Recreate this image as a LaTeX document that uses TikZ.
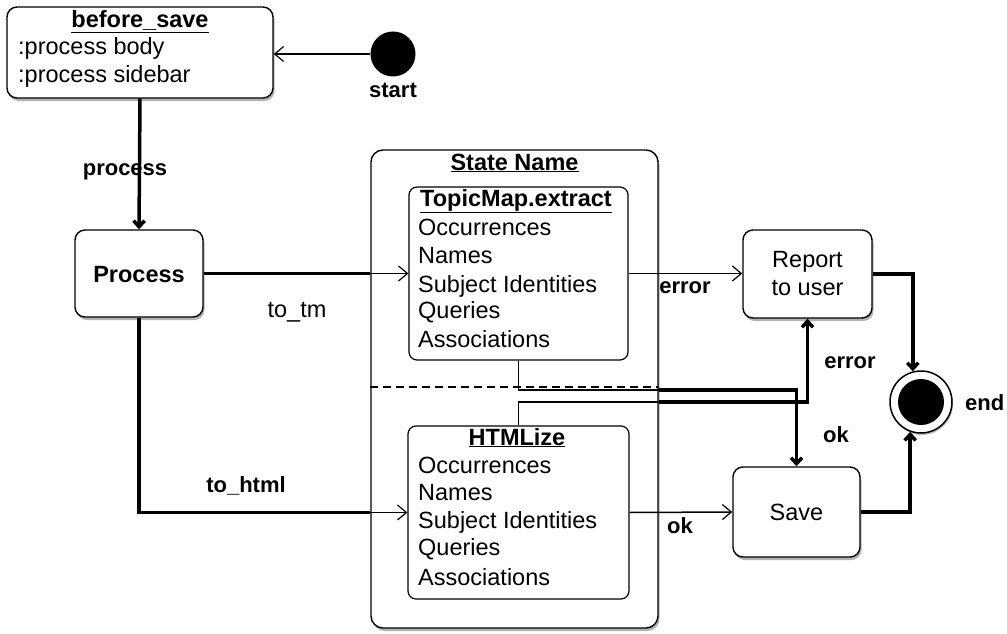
\documentclass[tikz,border=0pt]{standalone}
\usepackage{fontspec}
\setmainfont{Liberation Sans}
\usetikzlibrary{arrows.meta,shadows}

\begin{document}
\begin{tikzpicture}[x=1pt,y=-1pt,
  box/.style={draw, line width=1.4pt, rounded corners=10pt, fill=white, inner sep=0pt,
    drop shadow={shadow xshift=1.5pt, shadow yshift=-3pt, opacity=0.6}},
  inbox/.style={draw, line width=1.2pt, rounded corners=8pt, fill=white, inner sep=0pt},
  item/.style={anchor=base west, inner sep=0pt, font=\fontsize{23.5}{28}\selectfont},
  word/.style={anchor=base, inner sep=0pt, font=\fontsize{23.5}{28}\selectfont},
  title/.style={anchor=base, inner sep=0pt, font=\bfseries\fontsize{23.5}{28}\selectfont},
  lab/.style={anchor=base, inner sep=0pt, font=\bfseries\fontsize{22}{26}\selectfont},
  heavy/.style={line width=3.5pt},
  fine/.style={line width=1.5pt},
  opentip/.style={-{Straight Barb[length=9pt,width=15pt,line width=1.2pt]}},
  heavytip/.style={-{Straight Barb[length=6pt,width=11pt]}}
]
\useasboundingbox (0,0) rectangle (1007,634);

% composite state with its two regions
\node[box, rounded corners=12pt, minimum width=287pt, minimum height=478pt] (comp) at (514.5,389) {};
\node[title] (compname) at (514.5,170) {\underline{State Name}};
\coordinate (dashy) at (0,387);
\draw[line width=1.2pt, dash pattern=on 8pt off 5pt] (comp.west |- dashy) -- (comp.east |- dashy);

\node[inbox, minimum width=219pt, minimum height=173pt] (tm) at (518.5,273.5) {};
\node[title] (tmt) at (516,206) {\underline{TopicMap.extract}};
\node[item] (tm1) at (418,235) {Occurrences};
\node[item] (tm2) at (418,263) {Names};
\node[item] (tm3) at (418,292) {Subject Identities};
\node[item] (tm4) at (418,318) {Queries};
\node[item] (tm5) at (418,347) {Associations};

\node[inbox, minimum width=221pt, minimum height=173pt] (html) at (518.5,512.5) {};
\node[title] (htmlt) at (517,445) {\underline{HTMLize}};
\node[item] (h1) at (418,473) {Occurrences};
\node[item] (h2) at (418,500) {Names};
\node[item] (h3) at (418,528) {Subject Identities};
\node[item] (h4) at (418,555) {Queries};
\node[item] (h5) at (418,585) {Associations};

% simple states
\node[box, minimum width=266pt, minimum height=91pt] (bs) at (140,52.5) {};
\node[title] (bst) at (140,28) {\underline{before\_save}};
\node[item] (bs1) at (18,55) {:process body};
\node[item] (bs2) at (18,82) {:process sidebar};

\node[box, minimum width=128pt, minimum height=87pt] (proc) at (139,273.5) {};
\node[title] (proct) at (139,282) {Process};

\node[box, minimum width=129pt, minimum height=88pt] (report) at (807.5,274) {};
\node[word] (rep1) at (807.5,267) {Report};
\node[word] (rep2) at (807.5,295) {to user};

\node[box, minimum width=127pt, minimum height=90pt] (save) at (796.5,512) {};
\node[word] (savet) at (796.5,520) {Save};

% pseudo states
\node[circle, fill=black, minimum size=45pt, inner sep=0pt] (start) at (393,54) {};
\node[lab] (startl) at (393,97) {start};
\node[circle, draw, line width=1.5pt, fill=white, minimum size=62pt, inner sep=0pt,
  drop shadow={shadow xshift=1pt, shadow yshift=-2pt, opacity=0.5}] (endc) at (921,402) {};
\node[circle, fill=black, minimum size=46pt, inner sep=0pt] (endin) at (endc) {};
\node[lab, anchor=base west] (endl) at (965,410) {end};

% transitions
\draw[fine, opentip] (start.west) -- (start.west -| bs.east);
\draw[heavy, heavytip] (bs.south) -- (proc.north);
\node[lab] (lprocess) at (125,175) {process};

\draw[heavy] (proc.east) -- (proc.east -| comp.west);
\draw[fine, opentip] (proc.east -| comp.west) -- (proc.east -| tm.west);
\node[word] (ltotm) at (297,317) {to\_tm};

\draw[heavy] (proc.south) |- (comp.west |- html.west);
\draw[fine, opentip] (comp.west |- html.west) -- (html.west);
\node[lab] (ltohtml) at (246,492) {to\_html};

\draw[fine, opentip] (tm.east) -- (tm.east -| report.west);
\node[lab] (lerr1) at (685,293) {error};

\coordinate (tmturn) at (518.5,390);
\draw[fine] (tm.south) -- (tmturn) -- (tmturn -| comp.east);
\draw[heavy, heavytip] (tmturn -| comp.east) -| (save.north);
\node[lab] (lok1) at (836,442) {ok};

\coordinate (htturn) at (518.5,402);
\draw[fine] (html.north) -- (htturn) -- (htturn -| comp.east);
\draw[heavy, heavytip] (htturn -| comp.east) -| (report.south);
\node[lab] (lerr2) at (850,368) {error};

\draw[fine, opentip] (html.east) -- (save.west);
\node[lab] (lok2) at (680,533) {ok};

\draw[heavy, heavytip] (report.east) -| (endc.105);
\draw[heavy, heavytip] (save.east) -| (endc.250);
\end{tikzpicture}
\end{document}
